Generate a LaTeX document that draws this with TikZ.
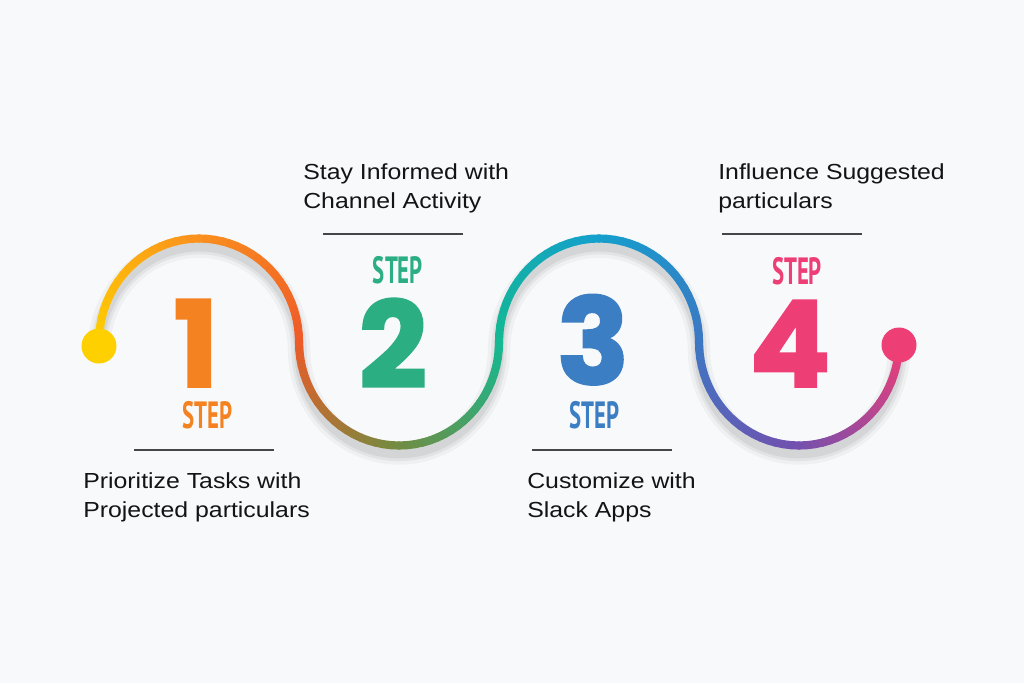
\documentclass[tikz,border=0pt]{standalone}
\usepackage{fontspec}
\usepackage{xcolor}
\usetikzlibrary{positioning}
\setmainfont{Liberation Sans}
\newfontfamily\labelfont{Liberation Sans}[FakeStretch=1.14]
\newfontfamily\digitfont{Poppins}[FakeBold=2]
\newfontfamily\stepfont{PT Sans}[FakeStretch=0.6]
\definecolor{pageBg}{RGB}{248,249,251}
\definecolor{ruleGray}{RGB}{70,70,70}
\definecolor{textDark}{RGB}{20,20,20}
\definecolor{stepOrange}{RGB}{245,130,32}
\definecolor{stepGreen}{RGB}{43,175,130}
\definecolor{stepBlue}{RGB}{60,126,196}
\definecolor{stepPink}{RGB}{238,62,118}
\definecolor{wave0}{RGB}{255,208,0}
\definecolor{wave1}{RGB}{250,145,30}
\definecolor{wave2}{RGB}{238,90,40}
\definecolor{wave3}{RGB}{115,140,65}
\definecolor{wave4}{RGB}{20,185,145}
\definecolor{wave5}{RGB}{20,160,205}
\definecolor{wave6}{RGB}{60,120,195}
\definecolor{wave7}{RGB}{115,80,175}
\definecolor{wave8}{RGB}{238,62,118}

\begin{document}
\begin{tikzpicture}[x=0.025cm, y=-0.025cm,
waveline/.style={line width=5.8pt, line cap=round},
shadowline/.style={line cap=round, draw=black},
dot/.style={circle, inner sep=0pt, minimum size=0.875cm},
digit/.style={inner sep=0pt, font=\digitfont\bfseries\fontsize{85}{85}\selectfont},
steplbl/.style={inner sep=0pt, font=\stepfont\bfseries\fontsize{27}{27}\selectfont},
caption/.style={inner sep=0pt, anchor=north west, align=left, text=textDark,
font=\labelfont\fontsize{15.5}{20.6}\selectfont},
rulestyle/.style={draw=ruleGray, line width=1.5pt}]
\fill[pageBg] (0,0) rectangle (1024,683);
\useasboundingbox (0,0) rectangle (1024,683);
\foreach \w/\o in {16/0.035, 11/0.05, 7/0.06}
  \draw[shadowline, line width=\w pt, opacity=\o]
    plot[domain=0:720, samples=161, variable=\t]
    ({199+200*floor(\t/180)-100*cos(mod(\t,180))}, {350-103.5*sin(\t)});
\foreach \j in {0,...,159}{
  \pgfmathtruncatemacro\halfno{floor(\j/20)}
  \pgfmathtruncatemacro\nextno{\halfno+1}
  \pgfmathtruncatemacro\pct{98-5*mod(\j,20)}
  \pgfmathsetmacro\ta{4.5*\j}
  \pgfmathsetmacro\tb{4.5*\j+4.5}
  \colorlet{segcol}{wave\halfno!\pct!wave\nextno}
  \draw[waveline, draw=segcol]
    ({199+200*floor(\ta/180)-100*cos(mod(\ta,180))}, {342-103.5*sin(\ta)}) --
    ({199+200*floor(\tb/180)-100*cos(mod(\tb,180))+0.01}, {342-103.5*sin(\tb)});
}
\node[dot, fill=wave0] (startdot) at (99,346) {};
\node[dot, fill=wave8] (enddot) at (899,345) {};

\node[digit, text=stepOrange, anchor=south] (num1) at (196,387) {1};
\node[digit, text=stepGreen, anchor=south] (num2) at (393,388) {2};
\node[digit, text=stepBlue, anchor=south] (num3) at (593,385) {3};
\node[digit, text=stepPink, anchor=south] (num4) at (790,387) {4};
\node[steplbl, text=stepOrange, below=10pt of num1.south, xshift=8pt] (step1) {STEP};
\node[steplbl, text=stepGreen, above=10pt of num2.north, xshift=3.5pt] (step2) {STEP};
\node[steplbl, text=stepBlue, below=11.5pt of num3.south, xshift=1pt] (step3) {STEP};
\node[steplbl, text=stepPink, above=10.5pt of num4.north, xshift=5pt] (step4) {STEP};

\draw[rulestyle] (134,450) -- (274,450);
\draw[rulestyle] (323,234) -- (463,234);
\draw[rulestyle] (532,450) -- (672,450);
\draw[rulestyle] (722,234) -- (862,234);

\node[caption] (prioritize) at (83,472) {Prioritize Tasks with\\Projected particulars};
\node[caption] (informed) at (303,163) {Stay Informed with\\Channel Activity};
\node[caption] (customize) at (527,472) {Customize with\\Slack Apps};
\node[caption] (influence) at (718,163) {Influence Suggested\\particulars};
\end{tikzpicture}
\end{document}
